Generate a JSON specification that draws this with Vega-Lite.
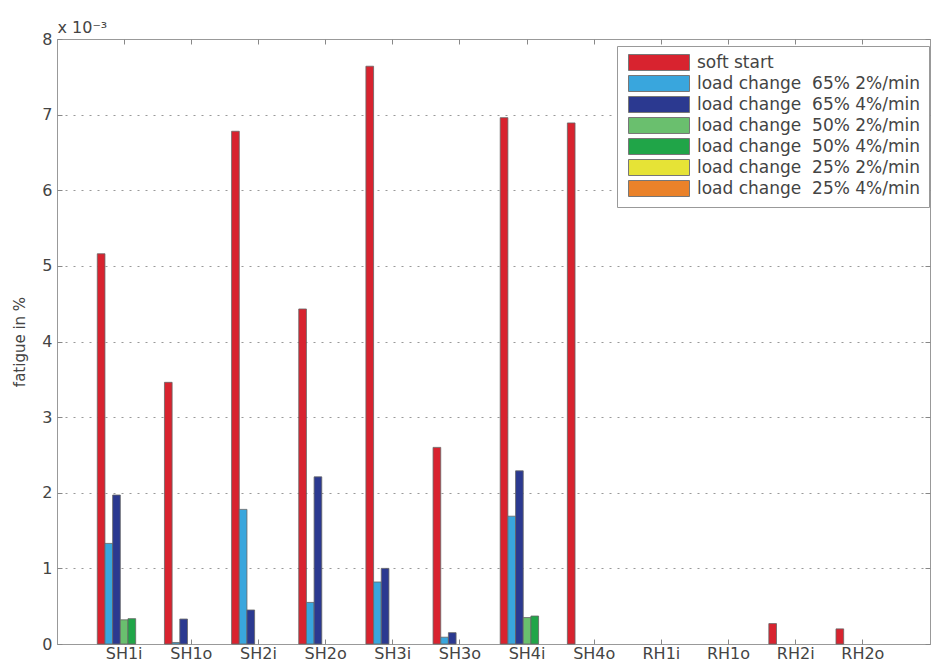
{
  "$schema": "https://vega.github.io/schema/vega-lite/v6.json",
  "width": 873,
  "height": 605,
  "autosize": {"type": "none"},
  "padding": {"left": 57, "top": 39, "right": 2, "bottom": 22},
  "background": "white",
  "config": {
    "view": {"stroke": "#999", "strokeWidth": 1},
    "font": "DejaVu Sans"
  },
  "data": {
    "values": [
      {"cat": "SH1i", "series": "soft start", "v": 5.16},
      {"cat": "SH1i", "series": "load change\u00a0 65% 2%/min", "v": 1.33},
      {"cat": "SH1i", "series": "load change\u00a0 65% 4%/min", "v": 1.97},
      {"cat": "SH1i", "series": "load change\u00a0 50% 2%/min", "v": 0.32},
      {"cat": "SH1i", "series": "load change\u00a0 50% 4%/min", "v": 0.335},
      {"cat": "SH1o", "series": "soft start", "v": 3.46},
      {"cat": "SH1o", "series": "load change\u00a0 65% 2%/min", "v": 0.02},
      {"cat": "SH1o", "series": "load change\u00a0 65% 4%/min", "v": 0.33},
      {"cat": "SH2i", "series": "soft start", "v": 6.78},
      {"cat": "SH2i", "series": "load change\u00a0 65% 2%/min", "v": 1.78},
      {"cat": "SH2i", "series": "load change\u00a0 65% 4%/min", "v": 0.45},
      {"cat": "SH2o", "series": "soft start", "v": 4.43},
      {"cat": "SH2o", "series": "load change\u00a0 65% 2%/min", "v": 0.55},
      {"cat": "SH2o", "series": "load change\u00a0 65% 4%/min", "v": 2.21},
      {"cat": "SH3i", "series": "soft start", "v": 7.64},
      {"cat": "SH3i", "series": "load change\u00a0 65% 2%/min", "v": 0.82},
      {"cat": "SH3i", "series": "load change\u00a0 65% 4%/min", "v": 1.0},
      {"cat": "SH3o", "series": "soft start", "v": 2.6},
      {"cat": "SH3o", "series": "load change\u00a0 65% 2%/min", "v": 0.09},
      {"cat": "SH3o", "series": "load change\u00a0 65% 4%/min", "v": 0.15},
      {"cat": "SH4i", "series": "soft start", "v": 6.96},
      {"cat": "SH4i", "series": "load change\u00a0 65% 2%/min", "v": 1.69},
      {"cat": "SH4i", "series": "load change\u00a0 65% 4%/min", "v": 2.29},
      {"cat": "SH4i", "series": "load change\u00a0 50% 2%/min", "v": 0.35},
      {"cat": "SH4i", "series": "load change\u00a0 50% 4%/min", "v": 0.37},
      {"cat": "SH4o", "series": "soft start", "v": 6.89},
      {"cat": "RH2i", "series": "soft start", "v": 0.27},
      {"cat": "RH2o", "series": "soft start", "v": 0.2}
    ]
  },
  "layer": [
    {
      "mark": {"type": "bar", "stroke": "#666", "strokeWidth": 0.8},
      "encoding": {
        "x": {
          "field": "cat", "type": "nominal",
          "sort": ["SH1i","SH1o","SH2i","SH2o","SH3i","SH3o","SH4i","SH4o","RH1i","RH1o","RH2i","RH2o"],
          "scale": {"domain": ["SH1i","SH1o","SH2i","SH2o","SH3i","SH3o","SH4i","SH4o","RH1i","RH1o","RH2i","RH2o"], "paddingInner": 0, "paddingOuter": 0.5},
          "axis": {"title": null, "orient": "bottom", "labelAngle": 0, "labelFontSize": 16, "labelColor": "#444", "domain": false, "ticks": true, "tickSize": -5, "tickColor": "#888", "labelPadding": 6, "grid": false}
        },
        "xOffset": {
          "field": "series", "type": "nominal",
          "scale": {"domain": ["soft start","load change\u00a0 65% 2%/min","load change\u00a0 65% 4%/min","load change\u00a0 50% 2%/min","load change\u00a0 50% 4%/min","load change\u00a0 25% 2%/min","load change\u00a0 25% 4%/min"], "paddingInner": 0, "paddingOuter": 0.875}
        },
        "y": {
          "field": "v", "type": "quantitative",
          "scale": {"domain": [0, 8], "nice": false},
          "axis": {"title": "fatigue in %", "titleFontSize": 15, "titleFontWeight": "normal", "titleColor": "#444", "titlePadding": 14, "values": [0,1,2,3,4,5,6,7,8], "labelFontSize": 16, "labelColor": "#444", "domain": false, "tickSize": -5, "tickColor": "#888", "labelPadding": 10, "grid": true, "gridDash": [2, 6], "gridColor": "#999", "gridWidth": 1}
        },
        "color": {
          "field": "series", "type": "nominal",
          "scale": {
            "domain": ["soft start","load change\u00a0 65% 2%/min","load change\u00a0 65% 4%/min","load change\u00a0 50% 2%/min","load change\u00a0 50% 4%/min","load change\u00a0 25% 2%/min","load change\u00a0 25% 4%/min"],
            "range": ["#d8232f","#39a6dd","#2b3990","#6abf6e","#20a548","#e6e336","#ea822a"]
          },
          "legend": {
            "title": null, "orient": "none", "legendX": 560, "legendY": 7,
            "symbolType": "M-0.625,-1H7V1H-0.625Z", "symbolSize": 256,
            "symbolStrokeColor": "#777", "symbolStrokeWidth": 1, "symbolOpacity": 1,
            "labelFontSize": 17, "labelColor": "#444", "labelOffset": 55, "labelLimit": 400,
            "rowPadding": 0, "padding": 8, "strokeColor": "#999", "fillColor": "white", "cornerRadius": 0
          }
        }
      }
    },
    {
      "mark": {"type": "bar", "opacity": 0},
      "encoding": {
        "x": {
          "field": "cat", "type": "nominal",
          "sort": ["SH1i","SH1o","SH2i","SH2o","SH3i","SH3o","SH4i","SH4o","RH1i","RH1o","RH2i","RH2o"],
          "axis": {"title": "x 10⁻³", "titleFontSize": 16, "titleFontWeight": "normal", "titleColor": "#444", "titleAngle": 0, "titleAlign": "left", "titleBaseline": "alphabetic", "titleAnchor": "start", "titleX": 0, "titleY": -7, "orient": "top", "labels": false, "domain": false, "tickSize": -5, "tickColor": "#888", "grid": false}
        },
        "y": {
          "field": "v", "type": "quantitative",
          "axis": {"title": null, "orient": "right", "labels": false, "values": [0,1,2,3,4,5,6,7,8], "domain": false, "tickSize": -5, "tickColor": "#888", "grid": false}
        }
      }
    }
  ],
  "resolve": {"axis": {"x": "independent", "y": "independent"}}
}
